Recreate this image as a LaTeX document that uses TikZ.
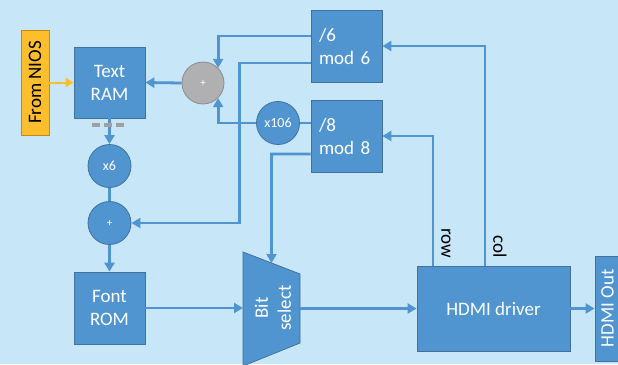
\documentclass[tikz,border=0pt]{standalone}
\usepackage{fontspec}
\setmainfont{Carlito}
\usetikzlibrary{arrows.meta,calc}
\definecolor{bgcolor}{RGB}{199,230,248}
\definecolor{boxcolor}{RGB}{80,149,207}
\definecolor{edgecolor}{RGB}{65,113,156}
\definecolor{nioscolor}{RGB}{252,190,45}
\definecolor{niosedge}{RGB}{190,140,20}
\definecolor{addcolor}{RGB}{176,176,178}
\definecolor{addedge}{RGB}{140,140,140}
\definecolor{dashcolor}{RGB}{160,160,160}
\tikzset{
  blockbox/.style={rectangle, fill=boxcolor, draw=edgecolor, line width=0.8pt,
    text=white, inner sep=0pt, align=center, font=\fontsize{19}{23}\selectfont},
  opcircle/.style={circle, fill=boxcolor, draw=edgecolor, line width=0.8pt,
    text=white, inner sep=0pt, minimum size=43pt, font=\fontsize{14}{16}\selectfont},
  wire/.style={boxcolor, line width=2.8pt},
  arrowwire/.style={wire, -{Triangle[length=9pt,width=10pt]}},
  lbl/.style={inner sep=0pt, font=\fontsize{19}{23}\selectfont}
}

\begin{document}
\begin{tikzpicture}[x=1pt,y=-1pt]
        % Page
        \clip (0,0) rectangle (618,364);
        \fill[bgcolor] (0,0) rectangle (618,364);
        % Blocks
        \node[blockbox, fill=nioscolor, draw=niosedge, text=black, rotate=90,
          minimum width=105pt, minimum height=28pt] (nios) at (35,82.5) {From NIOS};
        \node[blockbox, minimum width=71pt, minimum height=71pt] (textram) at (109.5,82.5) {Text\\RAM};
        \node[blockbox, minimum width=71pt, minimum height=72pt] (fontrom) at (109.5,308) {Font\\ROM};
        \node[blockbox, minimum width=71pt, minimum height=72pt, text width=55pt, align=left] (divsix) at (346.5,46) {/6\\mod 6};
        \node[blockbox, minimum width=71pt, minimum height=72pt, text width=55pt, align=left] (diveight) at (346.5,136) {/8\\mod 8};
        \node[blockbox, minimum width=153pt, minimum height=85pt] (hdmi) at (493.5,308.5) {HDMI driver};
        \node[blockbox, rotate=90, minimum width=105pt, minimum height=25pt] (hdmiout) at (607.5,308.5) {HDMI Out};
        % Adders and multipliers
        \node[opcircle] (xsix) at (109.5,166) {x6};
        \node[opcircle, font=\fontsize{11}{13}\selectfont] (plusB) at (109.5,223) {+};
        \node[opcircle, fill=addcolor, draw=addedge, minimum size=42pt, font=\fontsize{11}{13}\selectfont] (plusG) at (203,83) {+};
        \node[opcircle] (xhund) at (278,123) {x106};
        % Bit select
        \coordinate (bsA) at (243,252);
        \coordinate (bsB) at (300,274);
        \coordinate (bsC) at (300,343);
        \coordinate (bsD) at (243,366);
        \fill[boxcolor, draw=edgecolor, line width=0.8pt] (bsA) -- (bsB) -- (bsC) -- (bsD) -- cycle;
        \node[lbl, text=white, rotate=90, align=center] (bitsel) at (273,308) {Bit\\select};
        % Wires
        \draw[nioscolor, line width=2pt, -{Triangle[length=8pt,width=9pt]}] (nios.south) -- (textram.west);
        \draw[arrowwire] (plusG.west) -- (textram.east);
        \draw[arrowwire] (textram.south) -- (xsix.north);
        \draw[wire] (xsix.south) -- (plusB.north);
        \draw[arrowwire] (plusB.south) -- (fontrom.north);
        \draw[arrowwire] (fontrom.east) -- (fontrom.east -| bsA);
        \draw[arrowwire] (hdmi.west -| bsB) -- (hdmi.west);
        \draw[arrowwire] (hdmi.east) -- (hdmiout.north);
        \draw[arrowwire] ([xshift=-8.5pt]hdmi.north) |- (divsix.east);
        \draw[arrowwire] ([xshift=-60.5pt]hdmi.north) |- (diveight.east);
        \draw[arrowwire] ([yshift=10pt]divsix.west) -| (plusG.45);
        \draw[arrowwire] ([yshift=-17pt]divsix.west) -- ++(-71,0) |- (plusB.east);
        \draw[wire] ([yshift=13pt]diveight.west) -- (xhund.east);
        \draw[arrowwire] (xhund.west) -| (plusG.-45);
        \draw[arrowwire] ([yshift=-18pt]diveight.west) -- ++(-39,0) -- ($(bsA)!0.5!(bsB)$);
        % Read-out dashes
        \draw[dashcolor, line width=4pt, dash pattern=on 8pt off 4pt] (92,125) -- (127,125);
        % Counter labels
        \node[lbl, rotate=-90] (rowlbl) at (446,243) {row};
        \node[lbl, rotate=-90] (collbl) at (500,247) {col};
\end{tikzpicture}
\end{document}
